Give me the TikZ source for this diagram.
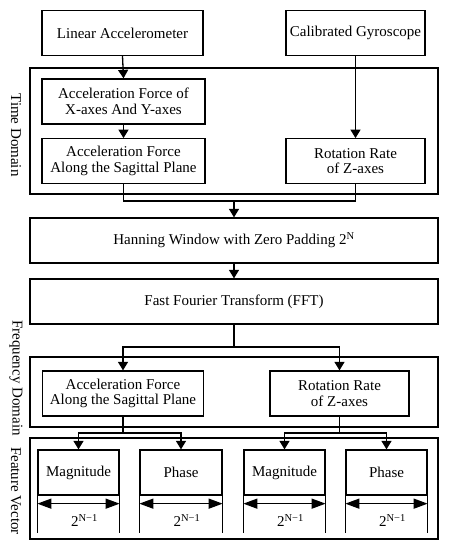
\documentclass[tikz,border=0pt]{standalone}
\usepackage{fontspec}
\setmainfont{Liberation Serif}
\usetikzlibrary{arrows.meta}
\begin{document}
\begin{tikzpicture}[x=1pt,y=-1pt,
  every node/.style={font=\fontsize{15}{15.5}\selectfont, inner sep=0pt, align=center},
  box/.style={draw, line width=1.3pt, minimum height=44.5pt},
  frame/.style={draw, line width=1.3pt},
  conn/.style={line width=1.3pt},
  arr/.style={conn, -{Triangle[width=10pt,length=8.5pt]}},
  darr/.style={line width=1.3pt, {Triangle[width=10pt,length=14pt]}-{Triangle[width=10pt,length=14pt]}},
  sidelabel/.style={rotate=-90, anchor=center}]
\useasboundingbox (0,0) rectangle (449,550);
% frames
\draw[frame] (30,68) rectangle (438,194);
\draw[frame] (30,357) rectangle (438,427);
\draw[frame] (30,438) rectangle (438,539);
\node[sidelabel] (tdl) at (16,135) {Time Domain};
\node[sidelabel] (fdl) at (16,378) {Frequency Domain};
\node[sidelabel] (fvl) at (16,491) {Feature Vector};
% time domain
\node[box, minimum width=161pt] (la) at (122.5,33) {Linear Accelerometer};
\node[box, minimum width=139pt] (cg) at (355.5,33) {Calibrated Gyroscope};
\node[box, minimum width=163pt, minimum height=45pt] (axy) at (123.5,101.5) {Acceleration Force of\\X-axes And Y-axes};
\node[box, minimum width=163pt] (asag) at (123.5,161) {Acceleration Force\\Along the Sagittal Plane};
\node[box, minimum width=139pt] (rz) at (355.5,161) {Rotation Rate\\of Z-axes};
\draw[arr] (la.south) -- (axy.north);
\draw[arr] (axy.south) -- (asag.north);
\draw[arr] (cg.south) -- (rz.north);
% merge
\node[box, minimum width=408pt, minimum height=45pt] (hann) at (234,240.5) {Hanning Window with Zero Padding 2\textsuperscript{N}};
\node[box, minimum width=408pt, minimum height=45pt] (fft) at (234,301.5) {Fast Fourier Transform (FFT)};
\coordinate (mL) at (asag.south |- 0,201);
\coordinate (mR) at (rz.south |- 0,201);
\coordinate (mC) at (hann.north |- 0,201);
\draw[conn] (asag.south) -- (mL) -- (mR) -- (rz.south);
\draw[arr] (mC) -- (hann.north);
\draw[arr] (hann.south) -- (fft.north);
% frequency domain
\node[box, minimum width=161pt, minimum height=45pt] (fasag) at (123,393.5) {Acceleration Force\\Along the Sagittal Plane};
\node[box, minimum width=139pt, minimum height=45pt] (frz) at (339.5,393.5) {Rotation Rate\\of Z-axes};
\coordinate (sC) at (fft.south |- 0,347);
\coordinate (sL) at (fasag.north |- 0,347);
\coordinate (sR) at (frz.north |- 0,347);
\draw[conn] (fft.south) -- (sC);
\draw[arr] (sC) -- (sL) -- (fasag.north);
\draw[arr] (sC) -- (sR) -- (frz.north);
% feature vector
\node[box, minimum width=81pt, minimum height=45pt] (m1) at (78.5,472.5) {Magnitude};
\node[box, minimum width=82pt, minimum height=45pt] (p1) at (181,472.5) {Phase};
\node[box, minimum width=81pt, minimum height=45pt] (m2) at (284.5,472.5) {Magnitude};
\node[box, minimum width=81pt, minimum height=45pt] (p2) at (386.5,472.5) {Phase};
\coordinate (aL) at (fasag.south |- 0,433);
\coordinate (aR) at (frz.south |- 0,433);
\draw[conn] (fasag.south) -- (aL);
\draw[conn] (frz.south) -- (aR);
\draw[arr] (aL) -| (m1.north);
\draw[arr] (aL) -| (p1.north);
\draw[arr] (aR) -| (m2.north);
\draw[arr] (aR) -| (p2.north);
\foreach \b in {m1,p1,m2,p2}{
  \draw[conn] (\b.south west) -- ++(0,37);
  \draw[conn] (\b.south east) -- ++(0,37);
  \draw[darr] ([yshift=-8pt]\b.south west) -- ([yshift=-8pt]\b.south east);
  \node (\b n) at ([xshift=6pt,yshift=-25pt]\b.south) {2\textsuperscript{N−1}};
}
\end{tikzpicture}
\end{document}
